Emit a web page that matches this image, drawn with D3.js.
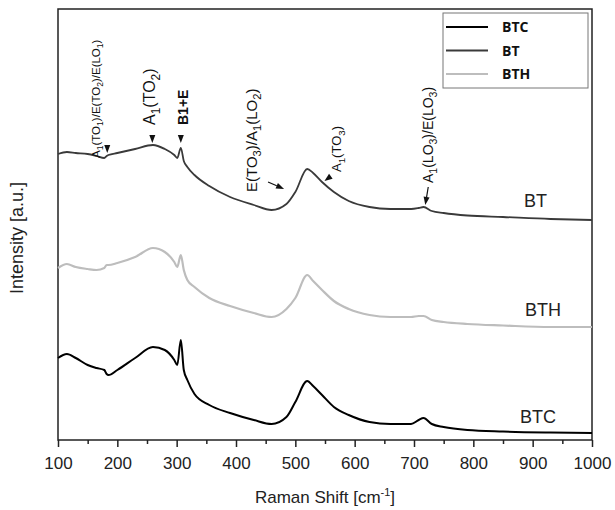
<!DOCTYPE html>
<html>
<head>
<meta charset="utf-8">
<script src="https://cdn.jsdelivr.net/npm/d3@7"></script>
<style>
  body { margin: 0; background: #fff; }
  svg { display: block; }
  text { font-family: "Liberation Sans", Arial, sans-serif; }
</style>
</head>
<body>
<svg id="raman"></svg>
<script>
// Raman shift (cm-1), shared by every spectrum
const shift = [100, 115, 130, 150, 165, 178, 182, 185, 200, 230, 260, 280, 296, 301, 307, 312, 318, 330, 355, 390,
               430, 460, 485, 500, 520, 530, 545, 565, 590, 625, 660, 695, 708, 716, 730, 750, 790, 850, 930, 1000];

// intensity [a.u.], already stacked with offsets as in the figure
const btc = [82, 86, 82, 75, 72, 70, 66, 65, 70, 82, 93, 90, 80, 75, 100, 70, 60, 46, 35, 27,
             20, 16, 23, 38, 59, 54, 45, 33, 25, 18, 16, 16, 20, 22, 16, 13, 10, 8.5, 7.5, 7];
const bth = [172, 176, 173, 171, 170, 172, 175, 175, 177, 183, 192, 188, 178, 173, 185, 170, 160, 153, 142, 134,
             127, 123, 131, 142, 165, 159, 150, 139, 131, 125, 123, 123, 124, 124, 120, 118, 116, 114.5, 113, 113];
const bt = [286, 288, 287, 286, 284, 282, 284, 285, 287, 291, 295, 291, 285, 282, 292, 279, 273, 265, 254, 243,
            235, 230, 236, 248, 271, 267, 258, 248, 239, 233, 231, 231, 232, 233, 229, 227, 224.5, 223, 221, 220];

const seriesNames = ["BTC", "BT", "BTH"];
const xTicks = [100, 200, 300, 400, 500, 600, 700, 800, 900, 1000];
const xMinorTicks = [150, 250, 350, 450, 550, 650, 750, 850, 950];
const modeLabels = ["A_1(TO_1)/E(TO_2)/E(LO_1)", "A_1(TO_2)", "B1+E", "E(TO_3)/A_1(LO_2)", "A_1(TO_3)", "A_1(LO_3)/E(LO_3)"];

const svgWidth = 615;
const svgHeight = 510;
const margin = { top: 9, right: 23, bottom: 70, left: 58 };

const svg = d3.select("#raman")
    .attr("width", svgWidth)
    .attr("height", svgHeight);

const x = d3.scaleLinear()
    .domain([100, 1000])
    .range([margin.left, svgWidth - margin.right]);

const y = d3.scaleLinear()
    .domain([0, 431])
    .range([svgHeight - margin.bottom, margin.top]);

const colors = { BTC: "#000", BT: "#3a3a3a", BTH: "#bdbdbd" };
const widths = { BTC: 2, BT: 1.8, BTH: 2.2 };
const values = { BTC: btc, BT: bt, BTH: bth };

// frame
svg.append("rect")
    .attr("x", x(100)).attr("y", y(431))
    .attr("width", x(1000) - x(100))
    .attr("height", y(0) - y(431))
    .attr("fill", "none")
    .attr("stroke", "#222")
    .attr("stroke-width", 1.5);

// x axis, major + minor ticks
const xAxis = svg.append("g")
    .attr("transform", `translate(0,${y(0)})`)
    .call(d3.axisBottom(x).tickValues(xTicks).tickSize(7).tickPadding(10).tickFormat(d3.format("d")));
xAxis.select(".domain").remove();
xAxis.selectAll("line").attr("stroke", "#222").attr("stroke-width", 1.5);
xAxis.selectAll("text")
    .attr("fill", "#222")
    .style("font-size", "17px")
    .style("font-family", "'Liberation Sans', Arial, sans-serif");

const xMinor = svg.append("g")
    .attr("transform", `translate(0,${y(0)})`)
    .call(d3.axisBottom(x).tickValues(xMinorTicks).tickSize(4).tickFormat(""));
xMinor.select(".domain").remove();
xMinor.selectAll("line").attr("stroke", "#222").attr("stroke-width", 1.5);

// axis titles
const xTitle = svg.append("text")
    .attr("x", (x(100) + x(1000)) / 2)
    .attr("y", 503)
    .attr("text-anchor", "middle")
    .attr("fill", "#222")
    .style("font-size", "17px");
xTitle.append("tspan").text("Raman Shift [cm");
xTitle.append("tspan").attr("font-size", 11).attr("dy", -7).text("-1");
xTitle.append("tspan").attr("dy", 7).text("]");

svg.append("text")
    .attr("transform", "rotate(-90)")
    .attr("x", -238)
    .attr("y", 23)
    .attr("text-anchor", "middle")
    .attr("fill", "#222")
    .style("font-size", "18px")
    .text("Intensity [a.u.]");

// spectra
const line = d3.line()
    .x((d, i) => x(shift[i]))
    .y(d => y(d))
    .curve(d3.curveMonotoneX);

["BTH", "BT", "BTC"].forEach(name => {
  svg.append("path")
      .datum(values[name])
      .attr("d", line)
      .attr("fill", "none")
      .attr("stroke", colors[name])
      .attr("stroke-width", widths[name])
      .attr("stroke-linejoin", "round");
});

// series labels at the right end
[["BT", 524, 233], ["BTH", 525, 124], ["BTC", 520, 17]].forEach(([name, px, a]) => {
  svg.append("text")
      .attr("x", px)
      .attr("y", y(a))
      .attr("fill", "#222")
      .style("font-size", "18px")
      .text(name);
});

// rotated mode label, "_" marks a subscript character
function modeLabel(str, w, a, size, weight) {
  const t = svg.append("text")
      .attr("transform", `translate(${x(w)},${y(a)}) rotate(-90)`)
      .attr("fill", "#111")
      .style("font-size", size + "px")
      .style("font-weight", weight || "normal");
  let low = false;
  str.split(/(_.)/).filter(s => s).forEach(p => {
    if (p[0] === "_") {
      t.append("tspan").attr("font-size", size * 0.75).attr("dy", low ? 0 : size * 0.3).text(p[1]);
      low = true;
    } else {
      t.append("tspan").attr("dy", low ? -size * 0.3 : 0).text(p);
      low = false;
    }
  });
}

function downTriangle(w, a) {
  const cx = x(w), ty = y(a);
  svg.append("path")
      .attr("d", `M${cx - 3},${ty - 8}L${cx + 3},${ty - 8}L${cx},${ty}Z`)
      .attr("fill", "#111");
}

function arrow(w1, a1, w2, a2, withLine) {
  const x1 = x(w1), y1 = y(a1), x2 = x(w2), y2 = y(a2);
  const ang = Math.atan2(y2 - y1, x2 - x1);
  const hl = 8, hw = 3;
  const bx = x2 - hl * Math.cos(ang), by = y2 - hl * Math.sin(ang);
  if (withLine) {
    svg.append("line")
        .attr("x1", x1).attr("y1", y1).attr("x2", bx).attr("y2", by)
        .attr("stroke", "#111").attr("stroke-width", 1.2);
  }
  const px = -Math.sin(ang) * hw, py = Math.cos(ang) * hw;
  svg.append("path")
      .attr("d", `M${x2},${y2}L${bx + px},${by + py}L${bx - px},${by - py}Z`)
      .attr("fill", "#111");
}

modeLabel(modeLabels[0], 170, 282, 11.5);
downTriangle(183, 287);
modeLabel(modeLabels[1], 264, 315, 16);
downTriangle(259, 297);
modeLabel(modeLabels[2], 319, 315, 14, "bold");
downTriangle(307, 297);
modeLabel(modeLabels[3], 435, 248, 15);
arrow(454, 258, 481, 251, true);
modeLabel(modeLabels[4], 577, 268, 13);
arrow(565, 266, 549, 259, false);
modeLabel(modeLabels[5], 732, 257, 14);
arrow(724, 253, 719, 235, true);

// legend
const legend = svg.append("g").attr("class", "legend");
legend.append("rect")
    .attr("x", 443).attr("y", 13)
    .attr("width", 145).attr("height", 75)
    .attr("fill", "#fff")
    .attr("stroke", "#777")
    .attr("stroke-width", 1);
seriesNames.forEach((name, i) => {
  const ly = 27 + i * 23.5;
  legend.append("line")
      .attr("x1", 446).attr("x2", 488)
      .attr("y1", ly).attr("y2", ly)
      .attr("stroke", colors[name])
      .attr("stroke-width", widths[name]);
  legend.append("text")
      .attr("x", 502).attr("y", ly + 5)
      .attr("fill", "#111")
      .style("font-family", "'Open Sans', sans-serif")
      .style("font-weight", "bold")
      .style("font-size", "14px")
      .text(name);
});
</script>
</body>
</html>
